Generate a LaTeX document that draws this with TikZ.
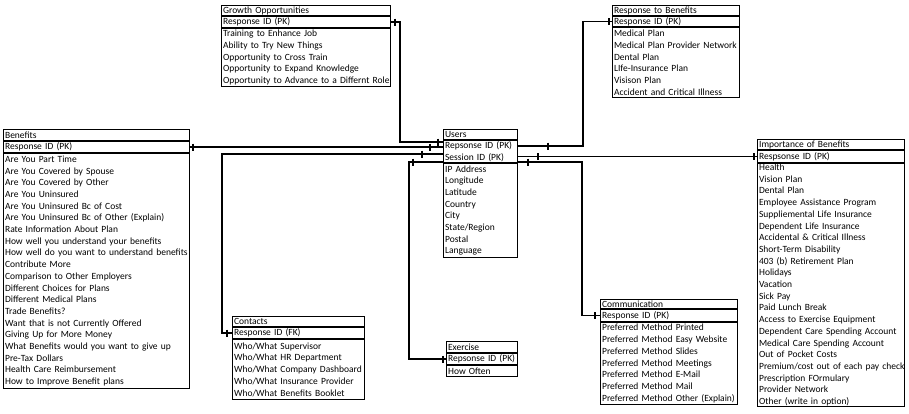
\documentclass[tikz,border=0pt]{standalone}
\usepackage{fontspec}
\setmainfont{Carlito}
\usetikzlibrary{calc}

\newcommand\erfont{\fontsize{9.5}{11.7}\selectfont}
\newcommand\onebar[1]{\draw[link] #1 ++(0,-3.5) -- ++(0,7);}

\tikzset{
  erbox/.style={draw, line width=1.2pt, anchor=north west, align=left,
    inner xsep=1.5pt, inner ysep=0pt, font=\erfont},
  link/.style={line width=1.2pt},
}

\begin{document}
\begin{tikzpicture}[x=1pt,y=-1pt]
    \useasboundingbox (0,0) rectangle (909,413);

    % Growth Opportunities
    \node[erbox, text width=165.8pt, minimum height=9.8pt] (grw) at (221,5) {Growth Opportunities};
    \node[erbox, text width=165.8pt, minimum height=10.8pt] (grwid) at (grw.south west) {Response ID (PK)};
    \node[erbox, text width=165.8pt, minimum height=57.8pt] (grwbody) at (grwid.south west)
      {Training to Enhance Job\\Ability to Try New Things\\Opportunity to Cross Train\\
       Opportunity to Expand Knowledge\\\mbox{Opportunity to Advance to a Differnt Role}};

    % Response to Benefits
    \node[erbox, text width=123.8pt, minimum height=9.8pt] (rtb) at (612,5) {Response to Benefits};
    \node[erbox, text width=123.8pt, minimum height=10pt] (rtbid) at (rtb.south west) {Response ID (PK)};
    \node[erbox, text width=123.8pt, minimum height=69.8pt] (rtbbody) at (rtbid.south west)
      {Medical Plan\\\mbox{Medical Plan Provider Network}\\Dental Plan\\LIfe-Insurance Plan\\
       Visison Plan\\Accident and Critical Illness};

    % Benefits
    \node[erbox, text width=182.8pt, minimum height=10.8pt] (ben) at (3,129) {Benefits};
    \node[erbox, text width=182.8pt, minimum height=10.8pt] (benid) at (ben.south west) {Response ID (PK)};
    \node[erbox, text width=182.8pt, minimum height=234.8pt] (benbody) at (benid.south west)
      {Are You Part Time\\Are You Covered by Spouse\\Are You Covered by Other\\Are You Uninsured\\
       Are You Uninsured Bc of Cost\\Are You Uninsured Bc of Other (Explain)\\Rate Information About Plan\\
       How well you understand your benefits\\\mbox{How well do you want to understand benefits}\\
       Contribute More\\Comparison to Other Employers\\Different Choices for Plans\\
       Different Medical Plans\\Trade Benefits?\\Want that is not Currently Offered\\
       Giving Up for More Money\\What Benefits would you want to give up\\Pre-Tax Dollars\\
       Health Care Reimbursement\\How to Improve Benefit plans};

    % Users
    \node[erbox, text width=70.8pt, minimum height=9.8pt] (usr) at (443,129) {Users};
    \node[erbox, text width=70.8pt, minimum height=21.8pt] (usrid) at (usr.south west)
      {Repsonse ID (PK)\\Session ID (PK)};
    \node[erbox, text width=70.8pt, minimum height=93.8pt] (usrbody) at (usrid.south west)
      {IP Address\\Longitude\\Latitude\\Country\\City\\State/Region\\Postal\\Language};

    % Importance of Benefits
    \node[erbox, text width=143.8pt, minimum height=9.8pt] (imp) at (757,139) {Importance of Benefits};
    \node[erbox, text width=143.8pt, minimum height=11.8pt] (impid) at (imp.south west) {Respsonse ID (PK)};
    \node[erbox, text width=143.8pt, minimum height=242.8pt] (impbody) at (impid.south west)
      {Health\\Vision Plan\\Dental Plan\\Employee Assistance Program\\Suppliemental Life Insurance\\
       Dependent Life Insurance\\Accidental \& Critical Illness\\Short-Term Disability\\
       403 (b) Retirement Plan\\Holidays\\Vacation\\Sick Pay\\Paid Lunch Break\\
       Access to Exercise Equipment\\\mbox{Dependent Care Spending Account}\\\mbox{Medical Care Spending Account}\\
       Out of Pocket Costs\\\mbox{Premium/cost out of each pay check}\\Prescription FOrmulary\\
       Provider Network\\Other (write in option)};

    % Contacts
    \node[erbox, text width=128.8pt, minimum height=9.8pt] (con) at (232,316) {Contacts};
    \node[erbox, text width=128.8pt, minimum height=10.8pt] (conid) at (con.south west) {Response ID (FK)};
    \node[erbox, text width=128.8pt, minimum height=59.8pt] (conbody) at (conid.south west)
      {Who/What Supervisor\\Who/What HR Department\\\mbox{Who/What Company Dashboard}\\
       Who/What Insurance Provider\\Who/What Benefits Booklet};

    % Exercise
    \node[erbox, text width=67.8pt, minimum height=10.8pt] (exe) at (446,341) {Exercise};
    \node[erbox, text width=67.8pt, minimum height=10.8pt] (exeid) at (exe.south west) {\mbox{Repsonse ID (PK)}};
    \node[erbox, text width=67.8pt, minimum height=10.8pt] (exebody) at (exeid.south west) {How Often};

    % Communication
    \node[erbox, text width=133.8pt, minimum height=8.8pt] (com) at (600,299) {Communication};
    \node[erbox, text width=133.8pt, minimum height=11.8pt] (comid) at (com.south west) {Response ID (PK)};
    \node[erbox, text width=133.8pt, minimum height=81.8pt] (combody) at (comid.south west)
      {Preferred Method Printed\\Preferred Method Easy Website\\Preferred Method Slides\\
       Preferred Method Meetings\\Preferred Method E-Mail\\Preferred Method Mail\\
       \mbox{Preferred Method Other (Explain)}};

    % links
    \draw[link] (grwid.east) -- ++(9,0) |- ($(usrid.north west)+(0,2)$);
    \draw[link] (benid.east) -- (benid.east -| usrid.west);
    \draw[link] ($(usrid.west)+(0,2.5)$) -| ($(conid.west)+(-10,0)$) -- (conid.west);
    \draw[link] ($(usrid.south west)+(0,-1)$) -| ($(exeid.west)+(-37,0)$) -- (exeid.west);
    \draw[link] ($(usrid.north east)+(0,6)$) -| ($(rtbid.west)+(-29,0)$) -- (rtbid.west);
    \draw[link] (impid.west) -- (impid.west -| usrid.east);
    \draw[link] ($(usrid.south east)+(0,-1)$) -| ($(comid.west)+(-18,0)$) -- (comid.west);

    % one-to-one bars
    \onebar{($(grwid.east)+(4,0)$)}
    \onebar{($(usrid.north west)+(-5,2)$)}
    \onebar{($(benid.east)+(3,0)$)}
    \onebar{(benid.east -| usrid.west) ++(-13,0)}
    \onebar{($(usrid.west)+(-21,2.5)$)}
    \onebar{($(conid.west)+(-5,0)$)}
    \onebar{($(usrid.south west)+(-30,-1)$)}
    \onebar{($(exeid.west)+(-3,0)$)}
    \onebar{($(usrid.north east)+(30,6)$)}
    \onebar{($(rtbid.west)+(-3,0)$)}
    \onebar{(impid.west -| usrid.east) ++(20,0)}
    \onebar{($(impid.west)+(-3,0)$)}
    \onebar{($(usrid.south east)+(10,-1)$)}
    \onebar{($(comid.west)+(-5,0)$)}
  \end{tikzpicture}
\end{document}
